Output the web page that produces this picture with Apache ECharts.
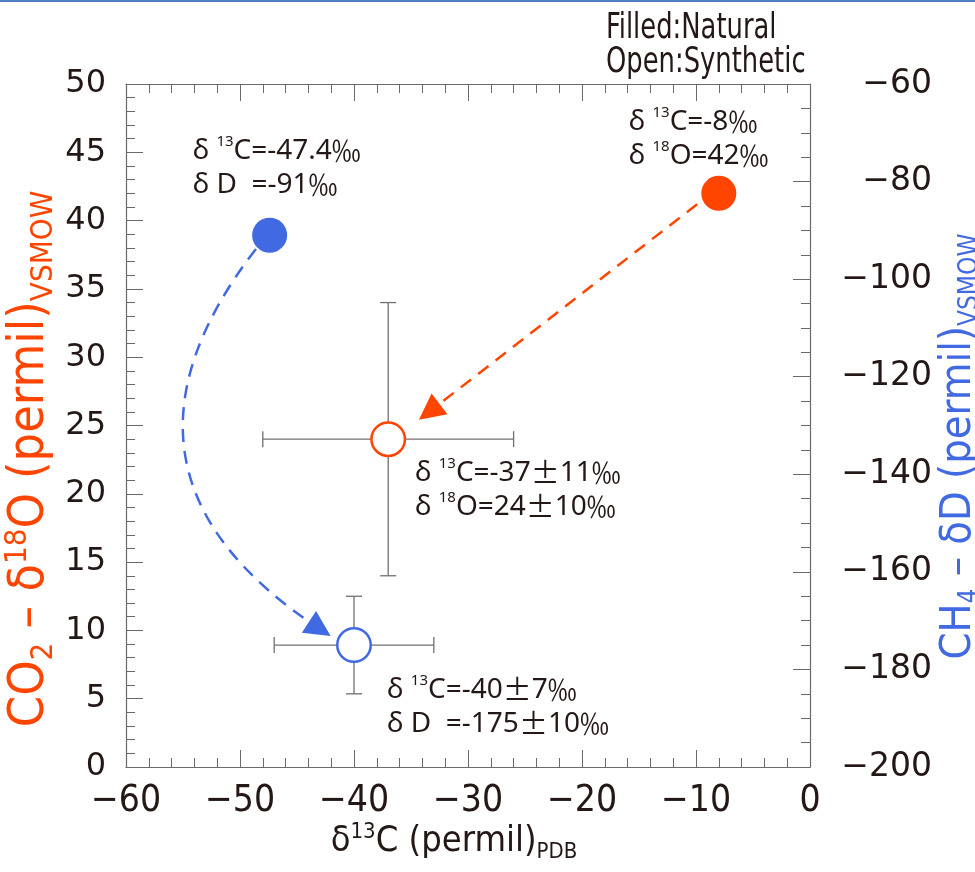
<!DOCTYPE html>
<html><head><meta charset="utf-8">
<script src="https://cdn.jsdelivr.net/npm/echarts@6/dist/echarts.min.js"></script>
<style>html,body{margin:0;padding:0;background:#fff}#c{width:975px;height:872px}</style>
</head><body><div id="c"></div>
<script>
// ---------- axes ----------
const xRange = { min: -60, max: 0, interval: 10 };          // δ13C (permil) PDB
const co2Range = { min: 0, max: 50, interval: 5 };           // CO2 δ18O (left)
const ch4Range = { min: -200, max: -60, interval: 20 };      // CH4 δD (right)

// ---------- data ----------
const naturalCO2 = [[-8, 42]];            // [δ13C, δ18O]
const syntheticCO2 = [[-37, 24]];
const syntheticCO2Err = [[11, 10]];       // [±δ13C, ±δ18O]
const naturalCH4 = [[-47.4, -91]];        // [δ13C, δD]
const syntheticCH4 = [[-40, -175]];
const syntheticCH4Err = [[7, 10]];        // [±δ13C, ±δD]

// arrows (data units): start, end
const arrowCO2 = [[-9.9, 41.2], [-33.4, 26.0]];
const arrowCH4 = [[-48.6, -93.8], [-43.0, -171.7]];

// annotation anchors (data units, top-left of text block) and texts
const noteCO2Anchors = [[-15.9, 48.45], [-34.65, 22.77]];
const noteCO2Texts = [
  '{d|δ} {s|13}C=-8{p|‰}\n{d|δ} {s|18}O=42{p|‰}',
  '{d|δ} {s|13}C=-37{p|±}11{p|‰}\n{d|δ} {s|18}O=24{p|±}10{p|‰}'
];
const noteCH4Anchors = [[-54.15, -70.25], [-37.1, -180.8]];
const noteCH4Texts = [
  '{d|δ} {s|13}C=-47.4{p|‰}\n{d|δ} D  =-91{p|‰}',
  '{d|δ} {s|13}C=-40{p|±}7{p|‰}\n{d|δ} D  =-175{p|±}10{p|‰}'
];

const legendText = 'Filled:Natural\nOpen:Synthetic';

// ---------- styles ----------
const ORANGE = '#ff4500';
const BLUE = '#4169e1';
const FRAME = '#6a6a6a';
const INK = '#231815';
const NARROW = '"Liberation Sans Narrow", "DejaVu Sans Condensed", sans-serif';
const WIDE = '"DejaVu Sans", sans-serif';
const NOTE = '"Noto Sans", "Open Sans", sans-serif';

const minus = v => (v < 0 ? '\u2212' + Math.abs(v) : String(v));

const noteRich = {
  d: { fontFamily: NOTE, fontSize: 28, lineHeight: 34, color: INK },
  s: { fontFamily: NOTE, fontSize: 15, lineHeight: 24, verticalAlign: 'top', color: INK },
  p: { fontFamily: '"Noto Sans CJK JP", sans-serif', fontSize: 29, lineHeight: 34, color: INK }
};

function titleRich(color, T, S, L, supH, subH) {
  return {
    t: { fontFamily: NARROW, fontSize: T, lineHeight: L, color: color },
    sup: { fontFamily: NARROW, fontSize: S, lineHeight: supH, verticalAlign: 'top', color: color },
    sub: { fontFamily: NARROW, fontSize: S, lineHeight: subH, verticalAlign: 'bottom', color: color }
  };
}

const tickStyle = { show: true, inside: true, length: 17, lineStyle: { color: FRAME, width: 1 } };
const minorStyle = (n) => ({ show: true, splitNumber: n, length: 9, lineStyle: { color: FRAME, width: 1 } });
const lineStyleAxis = { show: true, onZero: false, lineStyle: { color: FRAME, width: 1.2 } };

function errorBarItem(params, api) {
  const x = api.value(0), y = api.value(1), ex = api.value(2), ey = api.value(3);
  const l = api.coord([x - ex, y]), r = api.coord([x + ex, y]);
  const t = api.coord([x, y + ey]), b = api.coord([x, y - ey]);
  const cap = 8;
  const st = { stroke: '#707070', lineWidth: 1.3 };
  return {
    type: 'group',
    children: [
      { type: 'line', shape: { x1: l[0], y1: l[1], x2: r[0], y2: r[1] }, style: st },
      { type: 'line', shape: { x1: l[0], y1: l[1] - cap, x2: l[0], y2: l[1] + cap }, style: st },
      { type: 'line', shape: { x1: r[0], y1: r[1] - cap, x2: r[0], y2: r[1] + cap }, style: st },
      { type: 'line', shape: { x1: t[0], y1: t[1], x2: b[0], y2: b[1] }, style: st },
      { type: 'line', shape: { x1: t[0] - cap, y1: t[1], x2: t[0] + cap, y2: t[1] }, style: st },
      { type: 'line', shape: { x1: b[0] - cap, y1: b[1], x2: b[0] + cap, y2: b[1] }, style: st }
    ]
  };
}

function noteItem(texts) {
  return function (params, api) {
    const p = api.coord([api.value(0), api.value(1)]);
    return {
      type: 'text', x: p[0], y: p[1],
      style: {
        text: texts[params.dataIndex], rich: noteRich,
        fontFamily: NOTE, fontSize: 28, lineHeight: 34, fill: INK,
        align: 'left', verticalAlign: 'top'
      }
    };
  };
}

const chart = echarts.init(document.getElementById('c'), null, { renderer: 'canvas' });
chart.setOption({
  backgroundColor: '#fff',
  animation: false,
  grid: { left: 126, top: 84, width: 684, height: 683, outerBoundsMode: 'none', containLabel: false },
  graphic: [
    { type: 'rect', left: 0, top: 0, shape: { width: 975, height: 2 }, style: { fill: '#4f7fc0' } },
    { type: 'text', x: 606, y: 12, scaleX: 0.82, style: { text: legendText, font: '35px ' + NARROW, lineHeight: 34, fill: INK, verticalAlign: 'top', align: 'left' } }
  ],
  xAxis: [
    {
      type: 'value', position: 'bottom', min: xRange.min, max: xRange.max, interval: xRange.interval,
      axisLine: lineStyleAxis, axisTick: tickStyle, minorTick: minorStyle(5), splitLine: { show: false },
      axisLabel: { formatter: minus, fontFamily: NARROW, fontSize: 37, color: INK, margin: 16 },
      name: '{t|δ}{sup|13}{t|C (permil)}{sub|PDB}', nameLocation: 'middle', nameGap: 54, nameMoveOverlap: false,
      nameTextStyle: { rich: titleRich(INK, 36, 22, 42, 31, 18), padding: [0, 28, 0, 0] }
    },
    {
      type: 'value', position: 'top', min: xRange.min, max: xRange.max, interval: xRange.interval,
      axisLine: lineStyleAxis, axisTick: tickStyle, minorTick: minorStyle(5), splitLine: { show: false },
      axisLabel: { show: false }
    }
  ],
  yAxis: [
    {
      type: 'value', position: 'left', min: co2Range.min, max: co2Range.max, interval: co2Range.interval,
      axisLine: lineStyleAxis, axisTick: tickStyle, minorTick: minorStyle(5), splitLine: { show: false },
      axisLabel: { fontFamily: WIDE, fontSize: 32, color: INK, margin: 20 },
      name: '{t|CO}{sub|2}{t| – δ}{sup|18}{t|O (permil)}{sub|VSMOW}', nameLocation: 'middle', nameGap: 67, nameMoveOverlap: false,
      nameTextStyle: { rich: titleRich(ORANGE, 50, 31, 57, 43, 25), padding: [0, 67, 0, 0] }
    },
    {
      type: 'value', position: 'right', min: ch4Range.min, max: ch4Range.max, interval: ch4Range.interval,
      axisLine: lineStyleAxis, axisTick: tickStyle, minorTick: minorStyle(4), splitLine: { show: false },
      axisLabel: { formatter: minus, fontFamily: WIDE, fontSize: 33, color: INK, margin: 122, align: 'right' },
      name: '{t|CH}{sub|4}{t| – δD (permil)}{sub|VSMOW}', nameLocation: 'middle', nameGap: 125, nameMoveOverlap: false,
      nameTextStyle: { rich: titleRich(BLUE, 43, 26, 48, 37, 21), padding: [0, 42, 0, 0] }
    }
  ],
  series: [
    {
      type: 'custom', name: 'CO2 error', xAxisIndex: 0, yAxisIndex: 0, z: 2, silent: true,
      renderItem: errorBarItem,
      data: syntheticCO2.map((p, i) => [p[0], p[1], syntheticCO2Err[i][0], syntheticCO2Err[i][1]])
    },
    {
      type: 'custom', name: 'CH4 error', xAxisIndex: 0, yAxisIndex: 1, z: 2, silent: true,
      renderItem: errorBarItem,
      data: syntheticCH4.map((p, i) => [p[0], p[1], syntheticCH4Err[i][0], syntheticCH4Err[i][1]])
    },
    {
      type: 'lines', coordinateSystem: 'cartesian2d', xAxisIndex: 0, yAxisIndex: 0, z: 3, silent: true,
      symbol: ['none', 'triangle'], symbolSize: 26,
      lineStyle: { color: ORANGE, width: 2.5, type: [13, 9], opacity: 1, curveness: 0 },
      data: [{ coords: arrowCO2 }]
    },
    {
      type: 'lines', coordinateSystem: 'cartesian2d', xAxisIndex: 0, yAxisIndex: 1, z: 3, silent: true,
      symbol: ['none', 'triangle'], symbolSize: 26,
      lineStyle: { color: BLUE, width: 2.5, type: [13, 9], opacity: 1, curveness: -0.54 },
      data: [{ coords: arrowCH4 }]
    },
    {
      type: 'scatter', name: 'Natural CO2', xAxisIndex: 0, yAxisIndex: 0, z: 4, silent: true,
      symbol: 'circle', symbolSize: 35, itemStyle: { color: ORANGE, opacity: 1 }, data: naturalCO2
    },
    {
      type: 'scatter', name: 'Synthetic CO2', xAxisIndex: 0, yAxisIndex: 0, z: 4, silent: true,
      symbol: 'circle', symbolSize: 33.5, itemStyle: { color: '#fff', borderColor: ORANGE, borderWidth: 2.5, opacity: 1 },
      data: syntheticCO2
    },
    {
      type: 'scatter', name: 'Natural CH4', xAxisIndex: 0, yAxisIndex: 1, z: 4, silent: true,
      symbol: 'circle', symbolSize: 35, itemStyle: { color: BLUE, opacity: 1 }, data: naturalCH4
    },
    {
      type: 'scatter', name: 'Synthetic CH4', xAxisIndex: 0, yAxisIndex: 1, z: 4, silent: true,
      symbol: 'circle', symbolSize: 33.5, itemStyle: { color: '#fff', borderColor: BLUE, borderWidth: 2.5, opacity: 1 },
      data: syntheticCH4
    },
    {
      type: 'custom', name: 'CO2 notes', xAxisIndex: 0, yAxisIndex: 0, z: 5, silent: true, clip: false,
      renderItem: noteItem(noteCO2Texts), data: noteCO2Anchors
    },
    {
      type: 'custom', name: 'CH4 notes', xAxisIndex: 0, yAxisIndex: 1, z: 5, silent: true, clip: false,
      renderItem: noteItem(noteCH4Texts), data: noteCH4Anchors
    }
  ]
});
</script>
</body></html>
